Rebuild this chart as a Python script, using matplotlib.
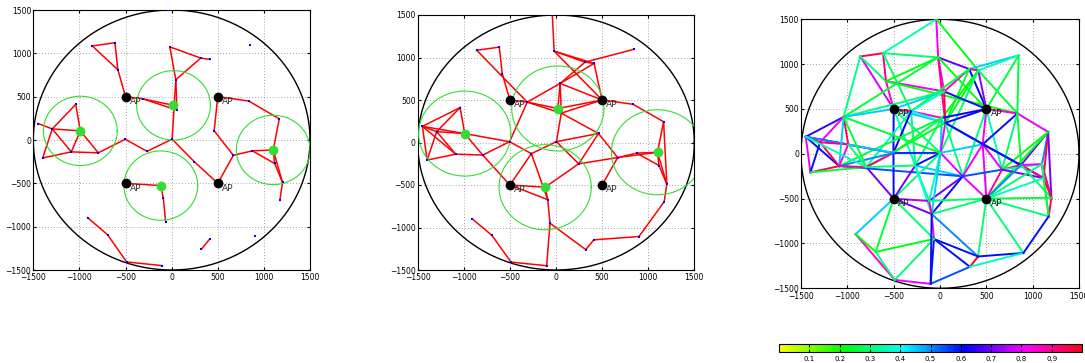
import numpy as np
import matplotlib
matplotlib.use("Agg")
import matplotlib.pyplot as plt
from matplotlib.colors import ListedColormap, Normalize
from matplotlib.cm import ScalarMappable

# ---------------- data ----------------
node_x = [-40, -860, -615, -583, -312, -20, 315, 413, 45, 57, 5, 20, -1040, -1449, -1294, -990,
          -1398, -1088, -795, -503, -267, 246, 461, 835, 1167, 669, 875, 1101, 1117, 1202, 1173,
          -118, -90, -65, 849, 900, -911, -694, -488, -101, 323, 411,
          -500, 500, -500, 500]
node_y = [1500, 1085, 1122, 810, 475, 1075, 945, 930, 695, 345, 10, 400, 411, 190, 128, 105,
          -207, -137, -148, 9, -131, -251, 106, 450, 244, -177, -125, -115, -271, -490, -698,
          -526, -672, -950, 1098, -1106, -896, -1094, -1407, -1450, -1260, -1145,
          500, 500, -500, -500]
ap_ids = [42, 43, 44, 45]
head_ids = [11, 15, 27, 31]
radius_p1 = 400
radius_p2 = 500
field_radius = 1500

edges_p1 = [(1, 2), (2, 3), (1, 3), (3, 42), (42, 4), (4, 11), (4, 9), (5, 6), (6, 7), (5, 8),
            (6, 8), (8, 10), (8, 9), (10, 20), (20, 19), (19, 18), (10, 21), (21, 45), (45, 25),
            (25, 22), (22, 43), (43, 23), (23, 24), (24, 27), (25, 26), (26, 27), (26, 28),
            (27, 28), (27, 29), (28, 29), (29, 30), (12, 15), (12, 14), (14, 15), (13, 14),
            (14, 16), (14, 17), (17, 15), (15, 18), (16, 17), (17, 18), (44, 31), (31, 32),
            (32, 33), (36, 37), (37, 38), (38, 39), (40, 41)]

edges_p2 = [(0, 5), (1, 2), (2, 3), (1, 4), (3, 42), (42, 4), (4, 11), (4, 9), (4, 8), (4, 19),
            (5, 6), (5, 7), (6, 7), (5, 43), (6, 34), (6, 8), (7, 8), (7, 43), (8, 43), (8, 9),
            (8, 11), (11, 43), (9, 43), (9, 22), (9, 10), (10, 22), (22, 21), (22, 25), (43, 23),
            (23, 24), (24, 27), (24, 29), (25, 26), (26, 27), (25, 27), (26, 28), (27, 28),
            (27, 29), (28, 29), (29, 30), (30, 35), (35, 41), (41, 40), (40, 33), (33, 32),
            (33, 39), (32, 31), (31, 44), (44, 32), (21, 25), (21, 31), (45, 25), (10, 21),
            (10, 20), (20, 19), (20, 44), (20, 32), (18, 44), (19, 18), (19, 15), (13, 12),
            (13, 14), (13, 15), (13, 16), (13, 17), (12, 14), (12, 15), (14, 16), (14, 17),
            (16, 17), (17, 18), (15, 18), (14, 15), (36, 37), (37, 38), (38, 39)]

edges_p3 = [(0, 2), (0, 5), (0, 7), (1, 2), (1, 12), (1, 42), (1, 3), (2, 3), (2, 5), (2, 4),
            (3, 42), (3, 5), (3, 8), (3, 23), (5, 6), (5, 8), (5, 9), (5, 12), (5, 43),
            (34, 6), (34, 23), (34, 43), (34, 7), (6, 7), (6, 43), (7, 43), (6, 8), (7, 9),
            (6, 9), (7, 11), (6, 4), (7, 23), (7, 10), (8, 42), (8, 43), (8, 9), (8, 4), (8, 12),
            (42, 12), (42, 9), (42, 19), (42, 4), (42, 20), (42, 10), (4, 11), (4, 9), (4, 20),
            (4, 18), (4, 19), (11, 43), (9, 43), (9, 22), (11, 10), (9, 10), (11, 20), (11, 19),
            (9, 21), (9, 18), (11, 17), (43, 23), (43, 22), (43, 21), (43, 25), (23, 24),
            (23, 22), (23, 25), (23, 26), (24, 26), (24, 27), (24, 28), (24, 25), (24, 29),
            (24, 45), (22, 10), (22, 21), (22, 45), (22, 25), (22, 26), (9, 28), (25, 26),
            (25, 21), (25, 45), (25, 27), (25, 28), (26, 27), (26, 28), (26, 29), (26, 45),
            (27, 28), (27, 29), (27, 30), (28, 29), (29, 30), (28, 30), (45, 29), (45, 28),
            (21, 10), (21, 45), (21, 20), (21, 31), (21, 32), (17, 21), (10, 20), (10, 19),
            (10, 12), (10, 31), (10, 32), (10, 44), (19, 13), (19, 18), (19, 44), (19, 15),
            (19, 17), (20, 44), (20, 31), (20, 32), (20, 18), (44, 18), (44, 31), (44, 32),
            (44, 36), (44, 37), (44, 33), (31, 32), (31, 45), (32, 45), (32, 33), (32, 41),
            (45, 41), (45, 30), (45, 35), (45, 27), (33, 41), (33, 40), (33, 39), (33, 38),
            (33, 37), (41, 40), (41, 35), (40, 39), (40, 35), (35, 30), (39, 38), (38, 36),
            (36, 37), (37, 38), (39, 32), (13, 12), (13, 14), (13, 16), (13, 17), (13, 15),
            (14, 12), (14, 15), (14, 16), (14, 17), (12, 15), (12, 17), (15, 17), (15, 18),
            (16, 17), (16, 18), (17, 18), (12, 18), (13, 18)]
vals_p3 = [0.35, 0.8, 0.22, 0.95, 0.32, 0.78, 0.3, 0.9, 0.3, 0.28,
           0.85, 0.22, 0.8, 0.22, 0.68, 0.8, 0.9, 0.25, 0.22,
           0.45, 0.25, 0.25, 0.35, 0.9, 0.62, 0.72, 0.85, 0.22,
           0.25, 0.2, 0.25, 0.25, 0.3, 0.45, 0.6, 0.95, 0.35, 0.3,
           0.45, 0.45, 0.6, 0.95, 0.35, 0.3, 0.85, 0.4, 0.3,
           0.35, 0.62, 0.62, 0.62, 0.55, 0.45, 0.8, 0.3, 0.25,
           0.3, 0.22, 0.25, 0.85, 0.8, 0.3, 0.35, 0.8,
           0.6, 0.3, 0.25, 0.7, 0.5, 0.95, 0.22, 0.7,
           0.22, 0.45, 0.8, 0.8, 0.8, 0.6, 0.6, 0.95,
           0.55, 0.9, 0.35, 0.7, 0.8, 0.9, 0.3, 0.5,
           0.8, 0.9, 0.3, 0.95, 0.95, 0.25, 0.25, 0.35,
           0.8, 0.8, 0.45, 0.7, 0.6, 0.55, 0.6, 0.58,
           0.25, 0.35, 0.45, 0.3, 0.62, 0.9, 0.6, 0.45,
           0.5, 0.7, 0.3, 0.4, 0.3, 0.7, 0.75, 0.7,
           0.45, 0.25, 0.3, 0.9, 0.3, 0.3, 0.8, 0.5,
           0.3, 0.3, 0.3, 0.3, 0.6, 0.6, 0.6, 0.3,
           0.22, 1.0, 0.6, 0.55, 0.35, 0.6, 0.8, 0.85,
           0.2, 0.3, 0.6, 0.65, 0.95, 0.8, 0.6, 0.5,
           0.8, 0.9, 0.6, 0.95, 0.95, 0.45, 0.8, 0.3,
           0.95, 0.25, 0.9, 0.25, 0.35]
cbar_ticks = [0.1, 0.2, 0.3, 0.4, 0.5, 0.6, 0.7, 0.8, 0.9]
axis_ticks = [-1500, -1000, -500, 0, 500, 1000, 1500]

# ---------------- style ----------------
plt.rcParams['font.family'] = ['DejaVu Sans']
cmap = ListedColormap(plt.cm.hsv(np.linspace(1 / 6, 1.0, 256)))
norm = Normalize(0, 1)
fig = plt.figure(figsize=(10.85, 3.63), dpi=100)
W, H = 1085, 363


def add_ax(l, r, t, b):
    return fig.add_axes([l / W, 1 - b / H, (r - l) / W, (b - t) / H])


ax1 = add_ax(33.3, 310, 10, 270)
ax2 = add_ax(417.7, 694.3, 15, 270)
ax3 = add_ax(801, 1079, 19.3, 288.3)
nx = np.array(node_x, float)
ny = np.array(node_y, float)
theta = np.linspace(0, 2 * np.pi, 400)


def base(ax):
    ax.plot(field_radius * np.cos(theta), field_radius * np.sin(theta), color='black', lw=1.0, zorder=2)
    ax.set_xlim(-1500, 1500)
    ax.set_ylim(-1500, 1500)
    ax.set_xticks(axis_ticks)
    ax.set_yticks(axis_ticks)
    ax.tick_params(labelsize=5.5, direction='in', length=2, pad=1.5, top=True, right=True)
    ax.tick_params(axis='x', pad=2.5)
    ax.grid(True, linestyle=(0, (1, 2.5)), color='#888888', lw=0.6)
    ax.set_axisbelow(True)
    for s in ax.spines.values():
        s.set_linewidth(0.8)


def draw_aps(ax, color='black', tcol='#333333'):
    for i in ap_ids:
        ax.plot(nx[i], ny[i], 'o', color=color, ms=6, zorder=6)
        ax.text(nx[i] + 45, ny[i] - 55, 'AP', fontsize=6.5, color=tcol, va='center', ha='left', zorder=7)


for ax, edges, rad in [(ax1, edges_p1, radius_p1), (ax2, edges_p2, radius_p2)]:
    base(ax)
    for a, b in edges:
        ax.plot([nx[a], nx[b]], [ny[a], ny[b]], color='red', lw=1.1, zorder=3)
    normal = [i for i in range(len(nx)) if i not in ap_ids]
    ax.plot(nx[normal], ny[normal], 's', color='blue', ms=1.5, mew=0, zorder=4)
    for h in head_ids:
        ax.plot(nx[h] + rad * np.cos(theta), ny[h] + rad * np.sin(theta), color='#33dd33', lw=0.8, zorder=3)
        ax.plot(nx[h], ny[h], 'o', color='#33dd33', ms=6, zorder=5)
    draw_aps(ax)

base(ax3)
for (a, b), v in zip(edges_p3, vals_p3):
    ax3.plot([nx[a], nx[b]], [ny[a], ny[b]], color=cmap(norm(v)), lw=1.4, zorder=3)
draw_aps(ax3, tcol='#222222')

cax = add_ax(779, 1082, 344, 352)
cb = fig.colorbar(ScalarMappable(norm=norm, cmap=cmap), cax=cax, orientation='horizontal', ticks=cbar_ticks)
cb.ax.tick_params(labelsize=5, direction='in', length=2.5, top=True, bottom=True, pad=3)
cb.ax.set_xticklabels([str(t) for t in cbar_ticks])
cb.outline.set_linewidth(0.8)

fig.savefig('out.png', dpi=100)
